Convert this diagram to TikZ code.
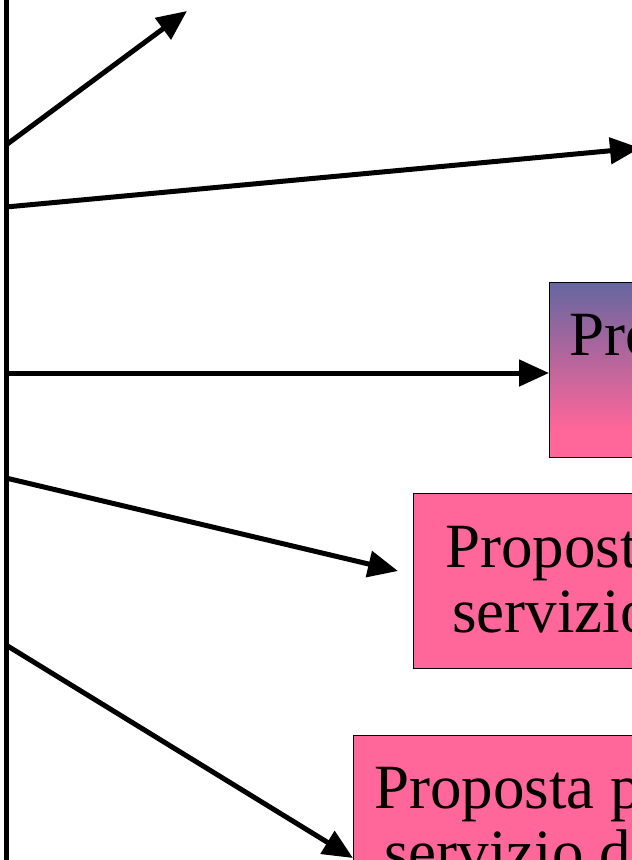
\documentclass[tikz,border=0pt]{standalone}
\usepackage{fontspec}
\setmainfont{Liberation Serif}
\usetikzlibrary{arrows.meta}
\definecolor{boxpink}{RGB}{255,102,153}
\definecolor{boxpurple}{RGB}{102,102,160}
\pgfdeclareverticalshading{boxgrad}{100bp}{color(0bp)=(boxpink); color(33bp)=(boxpink); color(75bp)=(boxpurple); color(100bp)=(boxpurple)}
\begin{document}
\begin{tikzpicture}[x=1pt,y=-1pt,
  arr/.style={line width=5pt,-{Triangle[length=30pt,width=26pt]}},
  pinkbox/.style={draw=black,line width=1.2pt,fill=boxpink,anchor=north west,inner sep=0pt},
  gradbox/.style={draw=black,line width=1.2pt,shading=boxgrad,anchor=north west,inner sep=0pt},
  lbl/.style={anchor=base west,inner sep=0pt,font=\fontsize{63}{63}\selectfont}]
\useasboundingbox (0,0) rectangle (632,860);
\clip (0,0) rectangle (632,860);
\fill[white] (0,0) rectangle (632,860);
% boxes
\node[gradbox,minimum width=200pt,minimum height=175pt] (b1) at (549,282) {};
\node[pinkbox,minimum width=300pt,minimum height=175pt] (b2) at (413,493) {};
\node[pinkbox,minimum width=350pt,minimum height=175pt] (b3) at (353,735) {};
\node[lbl] (t1) at (569,355) {Pro};
\node[lbl] (t2a) at (445,567) {Proposta};
\node[lbl] (t2b) at (452,632) {servizio};
\node[lbl] (t3a) at (374,808) {Proposta p};
\node[lbl] (t3b) at (384,873) {servizio d};
% vertical line
\coordinate (top) at (6,-5);
\coordinate (bot) at (6,865);
\draw[line width=5pt] (top) -- (bot);
% start points
\coordinate (s1) at (6,145);
\coordinate (s2) at (6,207);
\coordinate (s3) at (6,373);
\coordinate (s4) at (6,478);
\coordinate (s5) at (6,645);
% end points
\coordinate (e1) at (187,11);
\coordinate (e2) at (640,148);
\coordinate (e3) at (549,373);
\coordinate (e4) at (398,571);
\coordinate (e5) at (353,858);
\draw[arr] (s1) -- (e1);
\draw[arr] (s2) -- (e2);
\draw[arr] (s3) -- (e3);
\draw[arr] (s4) -- (e4);
\draw[arr] (s5) -- (e5);
\end{tikzpicture}
\end{document}
